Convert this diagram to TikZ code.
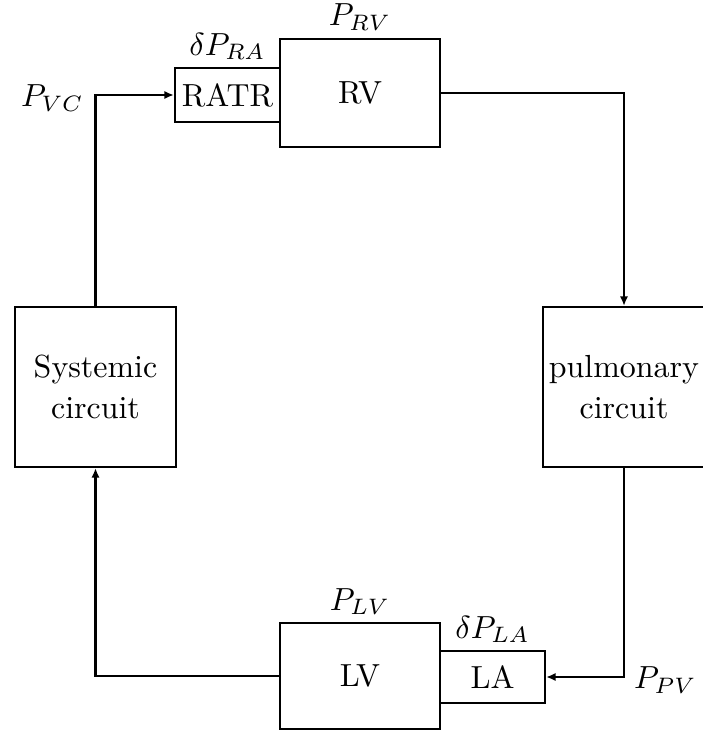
\documentclass[tikz,border=0pt]{standalone}
\usetikzlibrary{arrows.meta,positioning}

\begin{document}
\begin{tikzpicture}[x=0.011cm,y=-0.011cm,>={Latex[length=3pt,width=2.6pt]},
  blk/.style={draw,line width=.7pt,inner sep=0pt,align=center},
  lbl/.style={inner sep=1pt}]
 \useasboundingbox (0,0) rectangle (702,731);
 % heart chambers
 \node[blk,minimum width=1.76cm,minimum height=1.19cm] (rv) at (360,93) {RV};
 \node[blk,minimum width=1.155cm,minimum height=.594cm] (ratr) at (227.5,95) {RATR};
 \node[blk,minimum width=1.76cm,minimum height=1.166cm] (lv) at (360,676) {LV};
 \node[blk,minimum width=1.155cm,minimum height=.572cm] (la) at (492.5,677) {LA};
 % circuits
 \node[blk,minimum width=1.771cm,minimum height=1.76cm] (sys) at (95.5,387) {Systemic\\[1pt]circuit};
 \node[blk,minimum width=1.782cm,minimum height=1.76cm] (pul) at (624,387) {pulmonary\\[1pt]circuit};
 \coordinate (vc) at (sys.north |- ratr.west);
 \coordinate (pv) at (pul.south |- la.east);
 % pressures
 \node[lbl,above=1pt of rv] (prv) {$P_{RV}$};
 \node[lbl,above=1pt of ratr] (pra) {$\delta P_{RA}$};
 \node[lbl,above=1pt of lv] (plv) {$P_{LV}$};
 \node[lbl,above=1pt of la] (pla) {$\delta P_{LA}$};
 \node[lbl,left=2.5pt of vc,yshift=-1pt] (pvc) {$P_{VC}$};
 \node[lbl,right=2pt of pv,yshift=-1pt] (ppv) {$P_{PV}$};
 % flow
 \draw[line width=.7pt,->] (sys.north) -- (vc) -- (ratr.west);
 \draw[line width=.7pt,->] (rv.east) -| (pul.north);
 \draw[line width=.7pt,->] (pul.south) -- (pv) -- (la.east);
 \draw[line width=.7pt,->] (lv.west) -| (sys.south);
\end{tikzpicture}
\end{document}
